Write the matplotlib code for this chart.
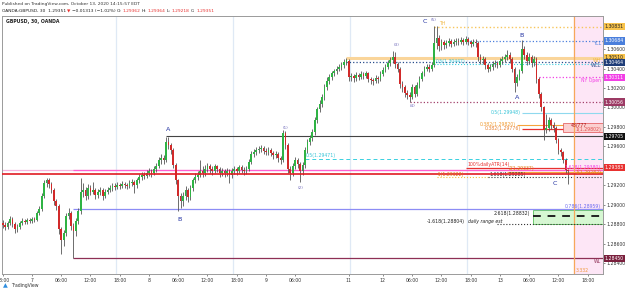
import numpy as np
import matplotlib.pyplot as plt
from matplotlib.patches import Rectangle
from matplotlib.transforms import blended_transform_factory

# GBPUSD 30 min bars, Oct 6 18:00 -> Oct 13 14:00 (EDT)
close = [1.2879, 1.2877, 1.2881, 1.2885, 1.2880, 1.2875, 1.2877, 1.2881, 1.2883, 1.2882, 1.2884, 1.2883,
         1.2885, 1.2884, 1.2892, 1.2896, 1.2909, 1.2922, 1.2925, 1.2921, 1.2915, 1.2904, 1.2899, 1.2875,
         1.2864, 1.2871, 1.2889, 1.2892, 1.2878, 1.2873, 1.2883, 1.2894, 1.2913, 1.2915, 1.2909, 1.2917,
         1.2913, 1.2915, 1.2910, 1.2913, 1.2915, 1.2909, 1.2913, 1.2915, 1.2917, 1.2919, 1.2918, 1.2920,
         1.2919, 1.2921, 1.2920, 1.2919, 1.2922, 1.2923, 1.2920, 1.2925, 1.2929, 1.2931, 1.2930, 1.2933,
         1.2935, 1.2933, 1.2937, 1.2940, 1.2946, 1.2948, 1.2946, 1.2965, 1.2961, 1.2956, 1.2941, 1.2925,
         1.2909, 1.2904, 1.2909, 1.2915, 1.2908, 1.2917, 1.2925, 1.2929, 1.2931, 1.2935, 1.2933, 1.2937,
         1.2940, 1.2937, 1.2935, 1.2940, 1.2937, 1.2933, 1.2935, 1.2933, 1.2935, 1.2931, 1.2935, 1.2937,
         1.2935, 1.2939, 1.2936, 1.2935, 1.2937, 1.2944, 1.2952, 1.2954, 1.2956, 1.2957, 1.2958, 1.2955,
         1.2954, 1.2956, 1.2953, 1.2951, 1.2952, 1.2948, 1.2946, 1.2974, 1.2961, 1.2937, 1.2933, 1.2940,
         1.2946, 1.2942, 1.2935, 1.2941, 1.2956, 1.2965, 1.2969, 1.2975, 1.2987, 1.2998, 1.3004, 1.3011,
         1.3021, 1.3027, 1.3031, 1.3035, 1.3037, 1.3040, 1.3042, 1.3044, 1.3047, 1.3049, 1.3031, 1.3032,
         1.3030, 1.3033, 1.3031, 1.3034, 1.3032, 1.3035, 1.3029, 1.3028, 1.3027, 1.3030, 1.3029, 1.3034,
         1.3039, 1.3042, 1.3046, 1.3049, 1.3052, 1.3045, 1.3040, 1.3024, 1.3021, 1.3015, 1.3013, 1.3011,
         1.3021, 1.3014, 1.3023, 1.3029, 1.3035, 1.3040, 1.3042, 1.3040, 1.3044, 1.3066, 1.3071, 1.3063,
         1.3067, 1.3064, 1.3066, 1.3068, 1.3065, 1.3067, 1.3068, 1.3067, 1.3069, 1.3067, 1.3070, 1.3067,
         1.3065, 1.3067, 1.3066, 1.3052, 1.3049, 1.3050, 1.3044, 1.3040, 1.3042, 1.3045, 1.3046, 1.3044,
         1.3048, 1.3050, 1.3052, 1.3054, 1.3050, 1.3040, 1.3025, 1.3031, 1.3037, 1.3060, 1.3054, 1.3048,
         1.3052, 1.3046, 1.3050, 1.3029, 1.3014, 1.3000, 1.2977, 1.2979, 1.2987, 1.2982, 1.2979, 1.2967,
         1.2956, 1.2954, 1.2946, 1.29362, 1.29351]
high = [1.2884, 1.2882, 1.2883, 1.2889, 1.2887, 1.2882, 1.2880, 1.2883, 1.2886, 1.2885, 1.2886, 1.2886,
        1.2887, 1.2887, 1.2894, 1.2899, 1.2912, 1.2925, 1.2928, 1.2928, 1.2923, 1.2917, 1.2906, 1.2901,
        1.2877, 1.2874, 1.2892, 1.2897, 1.2894, 1.2881, 1.2886, 1.2897, 1.2928, 1.2922, 1.2918, 1.2921,
        1.2920, 1.2923, 1.2917, 1.2916, 1.2918, 1.2917, 1.2916, 1.2918, 1.2920, 1.2922, 1.2922, 1.2923,
        1.2922, 1.2924, 1.2923, 1.2922, 1.2925, 1.2927, 1.2925, 1.2928, 1.2932, 1.2934, 1.2934, 1.2936,
        1.2938, 1.2937, 1.2940, 1.2943, 1.2949, 1.2952, 1.2951, 1.2970, 1.2970, 1.2964, 1.2958, 1.2943,
        1.2927, 1.2912, 1.2913, 1.2919, 1.2917, 1.2920, 1.2928, 1.2933, 1.2935, 1.2946, 1.2940, 1.2941,
        1.2943, 1.2942, 1.2940, 1.2942, 1.2941, 1.2939, 1.2938, 1.2937, 1.2938, 1.2937, 1.2938, 1.2940,
        1.2939, 1.2941, 1.2941, 1.2939, 1.2940, 1.2947, 1.2955, 1.2957, 1.2959, 1.2960, 1.2961, 1.2960,
        1.2958, 1.2959, 1.2958, 1.2955, 1.2955, 1.2954, 1.2950, 1.2977, 1.2976, 1.2963, 1.2940, 1.2943,
        1.2949, 1.2948, 1.2944, 1.2944, 1.2959, 1.2968, 1.2972, 1.2978, 1.2990, 1.3001, 1.3008, 1.3014,
        1.3024, 1.3031, 1.3034, 1.3038, 1.3040, 1.3043, 1.3045, 1.3047, 1.3050, 1.3051, 1.3050, 1.3035,
        1.3034, 1.3036, 1.3035, 1.3037, 1.3036, 1.3038, 1.3036, 1.3031, 1.3030, 1.3033, 1.3032, 1.3037,
        1.3042, 1.3045, 1.3049, 1.3052, 1.3058, 1.3057, 1.3047, 1.3042, 1.3027, 1.3023, 1.3018, 1.3016,
        1.3024, 1.3023, 1.3026, 1.3032, 1.3038, 1.3043, 1.3045, 1.3045, 1.3047, 1.3084, 1.3084, 1.3074,
        1.3070, 1.3069, 1.3069, 1.3071, 1.3070, 1.3070, 1.3071, 1.3071, 1.3072, 1.3071, 1.3073, 1.3072,
        1.3069, 1.3070, 1.3070, 1.3068, 1.3055, 1.3053, 1.3052, 1.3046, 1.3045, 1.3048, 1.3049, 1.3048,
        1.3051, 1.3053, 1.3055, 1.3059, 1.3057, 1.3052, 1.3042, 1.3034, 1.3040, 1.3069, 1.3063, 1.3057,
        1.3056, 1.3054, 1.3053, 1.3052, 1.3031, 1.3016, 1.3002, 1.2993, 1.2990, 1.2989, 1.2985, 1.2981,
        1.2969, 1.2958, 1.2955, 1.2948, 1.29364]
low = [1.2876, 1.2874, 1.2875, 1.2879, 1.2877, 1.2871, 1.2872, 1.2875, 1.2879, 1.2880, 1.2880, 1.2881,
       1.2881, 1.2882, 1.2883, 1.2890, 1.2894, 1.2907, 1.2918, 1.2917, 1.2912, 1.2900, 1.2895, 1.2870,
       1.2849, 1.2858, 1.2868, 1.2885, 1.2874, 1.2845, 1.2868, 1.2880, 1.2891, 1.2908, 1.2905, 1.2906,
       1.2910, 1.2911, 1.2906, 1.2907, 1.2910, 1.2905, 1.2907, 1.2911, 1.2913, 1.2914, 1.2915, 1.2916,
       1.2916, 1.2917, 1.2917, 1.2916, 1.2917, 1.2919, 1.2912, 1.2917, 1.2922, 1.2926, 1.2927, 1.2928,
       1.2930, 1.2929, 1.2931, 1.2934, 1.2938, 1.2942, 1.2942, 1.2944, 1.2957, 1.2952, 1.2938, 1.2921,
       1.2894, 1.2897, 1.2899, 1.2905, 1.2903, 1.2905, 1.2914, 1.2922, 1.2926, 1.2929, 1.2929, 1.2930,
       1.2934, 1.2933, 1.2931, 1.2933, 1.2934, 1.2929, 1.2930, 1.2929, 1.2930, 1.2922, 1.2928, 1.2932,
       1.2931, 1.2933, 1.2933, 1.2931, 1.2932, 1.2935, 1.2942, 1.2949, 1.2951, 1.2953, 1.2954, 1.2952,
       1.2951, 1.2951, 1.2950, 1.2947, 1.2948, 1.2944, 1.2942, 1.2944, 1.2957, 1.2933, 1.2925, 1.2930,
       1.2937, 1.2938, 1.2923, 1.2931, 1.2938, 1.2953, 1.2961, 1.2966, 1.2972, 1.2984, 1.2995, 1.3000,
       1.3008, 1.3018, 1.3024, 1.3028, 1.3032, 1.3034, 1.3037, 1.3039, 1.3041, 1.3044, 1.3027, 1.3027,
       1.3026, 1.3027, 1.3028, 1.3029, 1.3029, 1.3030, 1.3026, 1.3024, 1.3023, 1.3025, 1.3025, 1.3027,
       1.3032, 1.3036, 1.3040, 1.3043, 1.3046, 1.3041, 1.3036, 1.3020, 1.3016, 1.3011, 1.3009, 1.3006,
       1.3009, 1.3011, 1.3012, 1.3020, 1.3027, 1.3032, 1.3037, 1.3036, 1.3037, 1.3042, 1.3060, 1.3058,
       1.3059, 1.3060, 1.3061, 1.3063, 1.3062, 1.3063, 1.3064, 1.3064, 1.3065, 1.3064, 1.3065, 1.3064,
       1.3062, 1.3063, 1.3062, 1.3048, 1.3045, 1.3045, 1.3040, 1.3036, 1.3037, 1.3039, 1.3042, 1.3041,
       1.3042, 1.3045, 1.3047, 1.3049, 1.3046, 1.3036, 1.3016, 1.3022, 1.3028, 1.3035, 1.3050, 1.3044,
       1.3045, 1.3042, 1.3043, 1.3025, 1.3010, 1.2996, 1.2967, 1.2974, 1.2976, 1.2978, 1.2975, 1.2963,
       1.2952, 1.2950, 1.2943, 1.2933, 1.29218]
first_open = 1.2881
sunday_open = 1.3048      # first bar after the weekend (bar 142)

# time axis labels (bar index of each label)
tick_bars = [0, 12, 24, 36, 48, 60, 72, 84, 96, 108, 120, 142, 156, 168, 180, 192, 204, 216, 228, 240]
tick_text = ["18:00", "7", "06:00", "12:00", "18:00", "8", "06:00", "12:00", "18:00", "9", "06:00",
             "11", "12", "06:00", "12:00", "18:00", "13", "06:00", "12:00", "18:00"]
session_breaks = [46.4, 94.4, 142.4, 190.4]
price_ticks = [1.284, 1.286, 1.288, 1.290, 1.292, 1.296, 1.298, 1.300, 1.302, 1.304, 1.306]

# levels
TH, YCL, WH, WCL, NY_OPEN = 1.30831, 1.30684, 1.30510, 1.30464, 1.30311
FIB_HI_05 = 1.30447
PIVOT_4 = 1.30056
FIB_05, FIB_382A, FIB_382B = 1.29948, 1.29820, 1.29776
A_HIGH = 1.29705
FIB_05_LOW = 1.29471
ATR_LVL = 1.29383
PINK_LVL = 1.29355
EXT_2 = 1.29337
RED_LVL = 1.29317
EXT_1618 = 1.29286
FIB_786 = 1.28959
EXT_2618 = 1.28880
RANGE_EST = 1.28804
WL = 1.28450

# ---------------------------------------------------------------
W, H = 625, 293
fig = plt.figure(figsize=(W / 100, H / 100), dpi=100)
L, R, T, B = 2, 603, 16, 274
ax = fig.add_axes([L / W, 1 - B / H, (R - L) / W, (B - T) / H])
ax.set_xlim(-0.3, 246.3)
ax.set_ylim(1.28289, 1.30940)
XR = 246.3

n = len(close)
x = np.arange(n)
c = np.array(close)
o = np.r_[first_open, c[:-1]]
o[142] = sunday_open
up = c >= o
colors = np.where(up, "#2fb344", "#d12a2a")

ax.axvspan(234.4, XR, color="#fde6f6", zorder=0)
for sb in session_breaks:
    ax.axvline(sb, color="#dfe9f5", lw=0.9, zorder=0)

ax.vlines(x, low, high, color="#555555", lw=0.6, zorder=3)
body = np.maximum(np.abs(c - o), 0.00004)
ax.bar(x, body, bottom=np.minimum(o, c), width=0.7, color=colors, zorder=4, linewidth=0)

fs = 3.3
def lvl(y, x0, color, ls="-", lw=0.7, z=2):
    ax.hlines(y, x0, XR, colors=color, linestyles=ls, lw=lw, zorder=z)

# lines across the chart
lvl(PINK_LVL, -0.3, "#f6b3dd", lw=0.9)
lvl(PINK_LVL, 29, "#ff5fcf", lw=0.9)
lvl(RED_LVL, -0.3, "#e01b22", lw=1.2, z=5)
lvl(FIB_786, 29, "#8c8cf5", lw=0.9)
lvl(WL, 29, "#8e2f55", lw=0.9)
lvl(A_HIGH, 67, "#444444", lw=0.8)
lvl(FIB_05_LOW, 124, "#39d0e0", ls=(0, (4, 3)), lw=0.7)
ax.text(124.5, FIB_05_LOW + 0.0001, "0.5(1.29471)", fontsize=fs, color="#39c5d8", va="bottom")

lvl(WH, 141, "#fad59a", lw=2.2, z=1)
lvl(WCL, 141, "#274b8a", ls=":", lw=0.9)
lvl(FIB_HI_05, 177, "#39d0e0", ls=":", lw=0.8)
ax.text(177.5, FIB_HI_05 + 0.00003, "0.5(1.30447)", fontsize=fs, color="#39c5d8", va="bottom")
lvl(TH, 177, "#f7c65c", ls=":", lw=1.0)
ax.text(179, TH + 0.00005, "TH", fontsize=fs, color="#f0b640", va="bottom")
lvl(YCL, 190, "#4a7fdc", ls=":", lw=0.9)
lvl(NY_OPEN, 220, "#f23fe6", ls=":", lw=0.9)
lvl(PIVOT_4, 167, "#a2406b", ls=":", lw=0.9)

lvl(FIB_05, 213, "#8fd9ee", lw=0.8)
ax.text(212.5, FIB_05, "0.5(1.29948)", fontsize=fs, color="#39c5d8", va="center", ha="right")
lvl(FIB_382A, 211, "#f5a43c", lw=0.8)
ax.text(210.5, FIB_382A + 0.0001, "0.382(1.29820)", fontsize=fs, color="#f09a2e", va="center", ha="right")
lvl(FIB_382B, 213, "#e8312f", lw=0.9)
ax.text(212.5, FIB_382B + 0.0001, "0.382(1.29776)", fontsize=fs, color="#e8802f", va="center", ha="right")
ax.add_patch(Rectangle((230, 1.29748), XR - 230, 0.00093, fc="#fbd0d0", ec="#e05050", lw=0.5, zorder=2))
ax.text(233, 1.29815, "48/777", fontsize=fs, color="#b01010", va="center", zorder=6)
ax.text(245.5, 1.29775, "1(1.29802)", fontsize=fs, color="#e05050", va="center", ha="right", zorder=6)

lvl(ATR_LVL, 190, "#e8312f", lw=0.9)
ax.text(190.5, ATR_LVL + 0.00008, "100%dailyATR(14)", fontsize=fs, color="#e8312f", va="bottom")
ax.text(245.5, ATR_LVL - 0.00002, "1.618(1.29380)", fontsize=fs, color="#f23fe6", va="center", ha="right", zorder=6)
lvl(EXT_2, 207, "#f5a43c", lw=0.8)
ax.text(207.5, EXT_2 + 0.00006, "2(1.29337)", fontsize=fs, color="#e07a10", va="bottom")
ax.text(245.5, EXT_2 - 0.00004, "1(1.29282)", fontsize=fs, color="#e07a10", va="center", ha="right", zorder=6)
ax.text(178, RED_LVL - 0.00002, "-1(1.29322)", fontsize=fs, color="#e07a10", va="center", ha="left", zorder=6)
ax.hlines(EXT_1618, 178, 199, colors="#f0c040", linestyles=":", lw=0.8)
lvl(EXT_1618, 199, "#333333", ls=":", lw=0.8)
ax.text(199.5, EXT_1618 + 0.00003, "1.618(1.29285)", fontsize=fs, color="#333333", va="bottom")

ax.add_patch(Rectangle((217.5, RANGE_EST), XR - 217.5, FIB_786 - RANGE_EST - 0.00008,
                       fc="#d6f7d2", ec="#59c45a", lw=0.6, zorder=1))
lvl(EXT_2618, 217.5, "#222222", ls=(0, (4, 3.5)), lw=1.4, z=3)
ax.text(216.5, EXT_2618 + 0.00008, "2.618(1.28832)", fontsize=fs, color="#222222", ha="right", va="bottom")
ax.hlines(RANGE_EST, 203, XR, colors="#333333", linestyles=":", lw=0.8, zorder=3)
ax.text(174, RANGE_EST + 0.00002, "-1.618(1.28804)", fontsize=fs, color="#222222", va="bottom")
ax.text(191, RANGE_EST + 0.00002, "daily range est", fontsize=fs, color="#222222", va="bottom", style="italic")

ax.axvline(234.4, color="#f7a85a", lw=0.9, zorder=2)
ax.text(235, 1.28300, "3.332", fontsize=fs, color="#f09a3e", va="bottom")

# right-edge level names
for yv, name, col in [(YCL, "YCL", "#4a7fdc"), (WH, "WH", "#f0b640"), (WCL, "WCL", "#274b8a"),
                      (NY_OPEN, "NY Open", "#f23fe6"), (WL, "WL", "#8e2f55")]:
    ax.text(245.5, yv - 0.00004, name, fontsize=fs, color=col, ha="right", va="top", zorder=6)
ax.text(245.5, FIB_786 + 0.00003, "0.786(1.28959)", fontsize=fs, color="#6b6bf0", ha="right", va="bottom", zorder=6)

# wave labels
for bx, py, t in [(67.8, 1.29769, "A"), (72.7, 1.28844, "B"), (173.2, 1.30879, "C"),
                  (213, 1.30735, "B"), (211, 1.30098, "A"), (226.6, 1.29224, "C")]:
    ax.text(bx, py, t, fontsize=4.6, color="#1f2fa0", ha="center", va="center", zorder=7)
for bx, py, t in [(116.2, 1.2979, "(1)"), (122, 1.29173, "(2)"), (161.7, 1.30642, "(3)"),
                  (168.3, 1.30015, "(4)"), (176.9, 1.30899, "(5)")]:
    ax.text(bx, py, t, fontsize=3.0, color="#6a64b8", ha="center", va="center", zorder=7)

# axes styling
for s in ax.spines.values():
    s.set_color("#9a9a9a")
    s.set_linewidth(0.7)
ax.set_xticks(tick_bars)
ax.set_xticklabels(tick_text)
ax.yaxis.tick_right()
ax.set_yticks(price_ticks)
ax.set_yticklabels([f"{p:.5f}" for p in price_ticks])
ax.tick_params(axis="both", labelsize=fs, colors="#333333", length=1.5, width=0.4, pad=1.2)

tr = blended_transform_factory(ax.transAxes, ax.transData)
for yv, txt, fc in [(TH, "1.30831", "#f7c24a"), (YCL, "1.30684", "#4a7fdc"), (WH, "1.30510", "#f7c24a"),
                    (WCL, "1.30464", "#1f3d78"), (NY_OPEN, "1.30311", "#f23fe6"), (PIVOT_4, "1.30056", "#9c3a64"),
                    (A_HIGH, "1.29705", "#111111"), (ATR_LVL, "1.29383", "#e8312f"), (WL, "1.28450", "#7a1f3d")]:
    ax.text(1.003, yv, txt, transform=tr, fontsize=fs, color="#222222" if fc == "#f7c24a" else "white",
            va="center", ha="left", clip_on=False, zorder=8,
            bbox=dict(boxstyle="square,pad=0.25", fc=fc, ec="none"))

# header / footer
fig.text(2 / W, 1 - 4 / H, "Published on TradingView.com, October 13, 2020 14:15:57 EDT",
         fontsize=3.2, color="#333333", va="center")
head = [("OANDA:GBPUSD, 30  1.29351", "#222222"), ("\u25bc", "#e8312f"),
        ("\u22120.01313 (\u22121.02%)", "#222222"), ("O:", "#222222"), ("1.29362", "#e8312f"),
        ("H:", "#222222"), ("1.29364", "#e8312f"), ("L:", "#222222"), ("1.29218", "#e8312f"),
        ("C:", "#222222"), ("1.29351", "#e8312f")]
fig.canvas.draw()
rend = fig.canvas.get_renderer()
px = 2.0
for t, col in head:
    tt = fig.text(px / W, 1 - 11.5 / H, t, fontsize=3.2, color=col, va="center")
    px = tt.get_window_extent(renderer=rend).x1 + 1.2
fig.text(6 / W, 1 - 22 / H, "GBPUSD, 30, OANDA", fontsize=3.3, color="#222222", va="center", weight="bold")
fig.text(3 / W, 1 - 286 / H, "\u25b2", fontsize=4.5, color="#2e8ee0", va="center")
fig.text(11 / W, 1 - 286 / H, "TradingView", fontsize=3.3, color="#333333", va="center")

fig.savefig("out.png", dpi=100, facecolor="white")
